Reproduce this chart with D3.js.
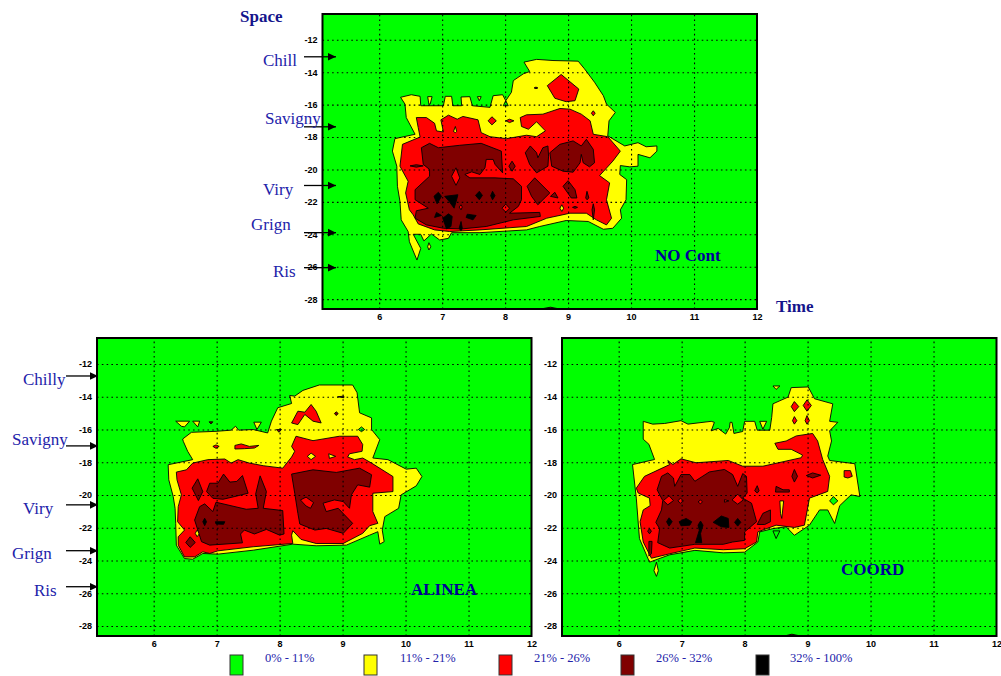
<!DOCTYPE html>
<html>
<head>
<meta charset="utf-8">
<script src="https://cdn.jsdelivr.net/npm/d3@7"></script>
<style>
body { margin: 0; background: #fff; }
svg { display: block; }
.tick text { font-family: "Liberation Sans", Arial, sans-serif; font-size: 9px; font-weight: bold; fill: #000; }
.label { font-family: "Liberation Serif", serif; fill: #2222aa; }
</style>
</head>
<body>
<div id="chart"></div>
<script>
// contour outlines are [time (h), space (km)]
var timeTicks = [6, 7, 8, 9, 10, 11, 12]
var spaceTicks = [-12, -14, -16, -18, -20, -22, -24, -26, -28]
var legendLabels = ["0% - 11%", "11% - 21%", "21% - 26%", "26% - 32%", "32% - 100%"]
var levelColors = ["#00ff00", "#ffff00", "#ff0000", "#800000", "#000000"]

var topSites = ["Chill", "Savigny", "Viry", "Grign", "Ris"]
var topSiteSpace = [-13.05, -17.37, -20.99, -23.9, -26.06]
var bottomSites = ["Chilly", "Savigny", "Viry", "Grign", "Ris"]
var bottomSiteSpace = [-12.73, -17.0, -20.6, -23.4, -25.6]

// NO Cont
var noContYellow = [
  [[6.34,-15.55],[6.51,-15.39],[6.65,-15.49],[6.66,-16.07],[7.02,-16.07],[7.05,-15.49],[7.15,-15.49],[7.17,-16.07],[7.31,-16.07],[7.30,-15.53],[7.44,-15.51],[7.48,-16.07],[7.76,-16.17],[7.81,-15.45],[7.96,-15.39],[8.01,-15.76],[8.10,-15.24],[8.13,-14.52],[8.29,-14.10],[8.39,-13.96],[8.30,-13.38],[8.50,-13.21],[8.76,-13.28],[9.16,-13.32],[9.26,-13.79],[9.42,-14.62],[9.56,-15.45],[9.61,-15.97],[9.75,-16.48],[9.65,-17.00],[9.63,-17.93],[9.90,-18.55],[10.11,-18.35],[10.24,-18.60],[10.41,-18.55],[10.41,-18.87],[10.30,-19.28],[10.11,-19.07],[10.11,-19.80],[9.98,-19.84],[9.83,-19.76],[9.82,-20.31],[9.93,-20.63],[9.92,-21.87],[9.83,-22.49],[9.85,-23.01],[9.71,-23.63],[9.56,-23.69],[9.32,-23.21],[8.97,-23.15],[8.55,-23.52],[8.34,-23.73],[7.60,-23.90],[7.15,-23.90],[7.10,-24.25],[6.96,-24.35],[6.83,-23.98],[6.71,-24.41],[6.66,-24.00],[6.54,-24.00],[6.66,-24.87],[6.60,-25.59],[6.48,-24.46],[6.46,-23.83],[6.35,-23.11],[6.33,-21.97],[6.29,-21.04],[6.28,-19.80],[6.21,-18.87],[6.25,-18.10],[6.57,-17.83],[6.43,-16.80],[6.41,-15.97]],
  [[6.77,-15.51],[6.84,-15.51],[6.81,-15.97],[6.79,-15.97]],
  [[7.56,-15.51],[7.62,-15.51],[7.59,-15.76]],
  [[6.79,-24.52],[6.82,-24.77],[6.79,-24.97],[6.77,-24.77]]
]
var noContGreenSpots = [
  [[8.01,-15.76],[8.05,-16.07],[7.97,-16.07]]
]
var noContRed = [
  [[6.59,-16.80],[6.75,-16.80],[6.88,-17.15],[6.91,-17.62],[7.02,-17.69],[6.98,-16.94],[7.10,-16.65],[7.24,-16.90],[7.33,-16.73],[7.57,-16.94],[7.62,-17.73],[7.76,-17.98],[8.02,-18.10],[8.34,-17.89],[8.50,-17.98],[8.64,-17.62],[8.50,-17.06],[8.37,-17.52],[8.26,-17.35],[8.24,-16.80],[8.34,-16.63],[8.60,-16.59],[8.87,-16.24],[9.03,-16.28],[9.21,-16.59],[9.35,-17.00],[9.40,-17.83],[9.63,-17.98],[9.83,-18.87],[9.71,-19.49],[9.50,-20.38],[9.66,-20.83],[9.61,-21.87],[9.69,-23.01],[9.61,-23.42],[9.45,-23.11],[9.29,-22.70],[9.03,-22.70],[8.66,-23.01],[8.34,-23.52],[7.60,-23.73],[7.12,-23.83],[6.88,-23.73],[6.62,-23.36],[6.54,-22.80],[6.48,-22.49],[6.42,-21.45],[6.46,-20.73],[6.33,-19.80],[6.37,-18.45],[6.65,-18.00],[6.62,-17.42]],
  [[8.67,-14.83],[8.89,-14.14],[9.17,-15.04],[9.11,-15.76],[8.97,-15.82],[8.79,-15.61]],
  [[9.40,-16.38],[9.43,-16.53],[9.40,-16.69],[9.37,-16.53]],
  [[7.79,-16.75],[7.86,-17.00],[7.79,-17.25],[7.73,-17.00]],
  [[8.01,-17.00],[8.07,-16.90],[8.14,-17.00],[8.07,-17.11]]
]
var noContYellowSpots = [
  [[7.21,-17.35],[7.23,-17.66],[7.21,-17.73],[7.18,-17.66]],
  [[8.90,-22.18],[8.93,-22.39],[8.90,-22.59],[8.87,-22.39]]
]
var noContDark = [
  [[6.67,-18.66],[6.80,-18.39],[6.94,-18.66],[7.28,-18.51],[7.62,-18.39],[7.94,-18.87],[7.96,-20.21],[7.84,-19.69],[7.81,-19.38],[7.70,-19.38],[7.68,-19.90],[7.60,-20.31],[7.47,-20.15],[7.36,-20.31],[7.44,-20.52],[7.84,-20.52],[8.13,-20.58],[8.26,-21.04],[8.26,-21.87],[8.21,-22.28],[8.07,-22.70],[8.55,-22.65],[8.56,-22.90],[8.13,-23.11],[7.70,-23.52],[7.31,-23.67],[7.02,-23.63],[6.75,-23.42],[6.57,-23.01],[6.59,-22.55],[6.78,-22.39],[6.57,-21.87],[6.57,-21.25],[6.80,-20.42],[6.80,-20.00],[6.70,-19.69]],
  [[6.49,-19.78],[6.59,-19.71],[6.70,-19.78],[6.59,-19.86]],
  [[8.11,-19.49],[8.16,-19.80],[8.11,-20.11],[8.06,-19.80]],
  [[8.32,-18.97],[8.40,-18.55],[8.50,-18.97],[8.52,-19.28],[8.60,-18.66],[8.68,-18.55],[8.69,-19.18],[8.68,-19.80],[8.50,-20.21],[8.39,-19.69]],
  [[8.71,-18.97],[8.87,-18.45],[9.08,-18.24],[9.21,-18.55],[9.29,-18.14],[9.40,-18.76],[9.42,-19.59],[9.34,-19.84],[9.24,-19.59],[9.21,-19.07],[9.19,-19.59],[9.08,-20.17],[8.92,-20.11],[8.74,-19.80]],
  [[8.35,-21.04],[8.47,-20.52],[8.71,-21.45],[8.52,-22.18],[8.42,-21.66]],
  [[8.92,-21.04],[9.00,-20.69],[9.11,-21.25],[9.14,-21.76],[9.05,-21.76]],
  [[8.72,-21.66],[8.79,-21.41],[8.84,-21.76]],
  [[9.30,-21.35],[9.33,-21.76],[9.30,-21.87],[9.28,-21.76]],
  [[9.40,-22.12],[9.42,-22.49],[9.40,-23.11],[9.38,-22.49]],
  [[8.46,-14.97],[8.49,-14.92],[8.52,-14.97],[8.49,-15.02]],
  [[9.07,-22.34],[9.11,-22.28],[9.15,-22.34],[9.11,-22.40]],
  [[8.55,-28.62],[8.72,-28.5],[8.88,-28.62]]
]
var noContRedSpots = [
  [[7.22,-19.90],[7.28,-20.52],[7.22,-20.98],[7.15,-20.42]],
  [[8.01,-22.14],[8.07,-22.39],[8.01,-22.63],[7.95,-22.39]],
  [[7.30,-22.18],[7.32,-22.32],[7.30,-22.49],[7.27,-22.32]]
]
var noContBlack = [
  [[6.94,-21.41],[6.99,-21.66],[6.92,-22.12],[6.87,-21.66]],
  [[7.04,-21.66],[7.25,-21.56],[7.23,-21.87],[7.19,-22.39],[7.11,-21.97]],
  [[7.59,-21.35],[7.64,-21.60],[7.59,-21.87],[7.53,-21.60]],
  [[7.80,-21.35],[7.84,-21.62],[7.80,-21.87],[7.77,-21.62]],
  [[6.91,-22.65],[6.99,-22.84],[6.88,-22.96]],
  [[7.10,-22.74],[7.16,-22.90],[7.14,-23.52],[7.07,-23.67],[7.01,-23.01]],
  [[7.40,-22.76],[7.54,-22.84],[7.49,-23.11],[7.38,-22.96]],
  [[7.30,-23.21],[7.32,-23.63],[7.30,-23.79],[7.27,-23.63]]
]

// ALINEA
var alineaYellow = [
  [[6.46,-16.58],[6.60,-16.17],[6.99,-16.11],[7.23,-16.04],[7.30,-15.80],[7.35,-16.04],[7.58,-16.00],[7.81,-16.21],[7.87,-15.49],[7.97,-14.67],[8.19,-14.41],[8.16,-13.92],[8.24,-13.96],[8.37,-13.61],[8.63,-13.28],[9.16,-13.28],[9.23,-13.75],[9.27,-14.98],[9.46,-15.29],[9.46,-16.00],[9.59,-16.62],[9.48,-17.74],[9.72,-17.84],[10.01,-18.42],[10.17,-18.36],[10.26,-18.87],[10.17,-19.44],[9.93,-19.99],[9.89,-20.81],[9.67,-21.32],[9.63,-22.14],[9.66,-22.85],[9.59,-23.00],[9.56,-22.24],[9.43,-22.45],[9.06,-23.06],[8.58,-23.10],[8.21,-23.00],[7.58,-23.37],[7.02,-23.61],[6.78,-23.57],[6.62,-23.92],[6.49,-23.88],[6.36,-23.06],[6.35,-21.73],[6.34,-20.81],[6.31,-20.09],[6.24,-19.07],[6.23,-18.15],[6.62,-17.84],[6.54,-17.33],[6.47,-16.72]],
  [[6.35,-15.49],[6.57,-15.49],[6.49,-15.84],[6.44,-15.80]],
  [[6.62,-15.49],[6.73,-15.49],[6.70,-15.84]],
  [[7.59,-15.55],[7.71,-15.55],[7.64,-16.00]]
]
var alineaGreenSpots = [
  [[9.30,-15.84],[9.35,-16.00],[9.30,-16.13],[9.25,-16.00]]
]
var alineaRed = [
  [[6.36,-18.60],[6.52,-18.46],[6.62,-18.05],[6.86,-17.84],[7.13,-17.80],[7.23,-18.05],[7.34,-17.84],[7.52,-18.05],[7.74,-18.21],[8.05,-18.36],[8.19,-17.68],[8.24,-17.33],[8.19,-17.03],[8.26,-16.41],[8.53,-16.68],[8.95,-16.41],[9.24,-16.41],[9.32,-16.92],[9.31,-17.33],[9.11,-17.48],[9.08,-17.68],[9.19,-17.84],[9.32,-17.74],[9.46,-18.05],[9.80,-18.87],[9.80,-19.79],[9.48,-19.89],[9.48,-21.01],[9.56,-21.73],[9.43,-21.87],[9.32,-22.34],[9.01,-22.96],[8.58,-22.96],[8.34,-22.71],[8.21,-22.18],[8.19,-22.45],[8.21,-22.96],[7.58,-23.16],[7.02,-23.41],[6.89,-23.57],[6.78,-23.47],[6.65,-23.78],[6.49,-23.78],[6.39,-23.06],[6.39,-22.55],[6.49,-22.14],[6.38,-21.63],[6.39,-20.71],[6.44,-19.99],[6.37,-19.07]],
  [[8.19,-15.60],[8.29,-14.88],[8.40,-14.94],[8.50,-14.47],[8.58,-14.88],[8.66,-15.60],[8.53,-15.49],[8.40,-15.08],[8.29,-15.70]],
  [[7.29,-16.97],[7.39,-16.88],[7.52,-17.03],[7.67,-16.97],[7.60,-17.13],[7.44,-17.17],[7.29,-17.19]],
  [[6.94,-17.03],[6.99,-16.94],[7.04,-17.03],[6.99,-17.15]]
]
var alineaYellowSpots = [
  [[8.50,-17.44],[8.57,-17.64],[8.50,-17.84],[8.44,-17.64]],
  [[8.78,-17.48],[8.89,-17.64],[8.79,-17.76]],
  [[6.69,-22.14],[6.73,-22.34],[6.69,-22.55],[6.66,-22.34]]
]
var alineaDark = [
  [[6.58,-22.55],[6.66,-22.90],[6.58,-23.20],[6.51,-22.90]],
  [[6.61,-19.58],[6.70,-19.01],[6.78,-19.79],[6.71,-20.34]],
  [[6.84,-19.79],[6.89,-19.28],[7.02,-19.28],[7.11,-18.72],[7.21,-19.21],[7.32,-19.17],[7.41,-18.81],[7.50,-19.89],[7.29,-20.09],[7.10,-20.26],[6.94,-20.20]],
  [[7.62,-19.93],[7.69,-18.83],[7.79,-19.79],[7.74,-20.81],[8.05,-20.95],[8.07,-22.38],[8.00,-22.45],[7.79,-22.10],[7.60,-22.38],[7.44,-22.14],[7.38,-22.38],[7.41,-22.92],[6.89,-23.06],[6.76,-22.85],[6.65,-21.53],[6.73,-20.71],[6.81,-20.54],[6.94,-21.01],[6.99,-20.44],[7.47,-20.87],[7.66,-20.81]],
  [[8.19,-18.72],[8.53,-18.46],[8.90,-18.62],[9.27,-18.36],[9.46,-18.76],[9.43,-19.52],[9.24,-19.38],[9.14,-19.99],[9.11,-20.81],[9.01,-20.40],[8.87,-20.30],[8.69,-20.50],[8.74,-21.01],[8.93,-20.81],[9.16,-21.73],[9.01,-22.34],[8.74,-22.04],[8.56,-22.14],[8.32,-21.77],[8.29,-21.12],[8.24,-19.89]],
  [[6.88,-15.53],[6.94,-15.53],[6.91,-15.66]],
  [[8.90,-14.92],[8.93,-15.02],[8.90,-15.15],[8.87,-15.02]],
  [[8.92,-14.00],[9.02,-13.96],[9.02,-14.06]],
  [[7.95,-16.00],[8.03,-16.00],[7.99,-16.17]]
]
var alineaRedSpots = [
  [[8.33,-20.30],[8.42,-20.13],[8.54,-20.46],[8.49,-20.81],[8.42,-20.67]]
]
var alineaBlack = [
  [[6.81,-21.42],[6.84,-21.63],[6.81,-21.87],[6.78,-21.63]],
  [[6.98,-21.63],[7.13,-21.63],[7.11,-21.79],[6.99,-21.77]]
]

// COORD
var coordYellow = [
  [[6.39,-15.50],[6.54,-15.67],[6.73,-15.63],[6.99,-15.46],[7.10,-15.67],[7.47,-15.50],[7.52,-15.56],[7.47,-16.08],[7.58,-15.93],[7.70,-16.28],[7.76,-15.87],[7.77,-15.56],[7.80,-15.56],[7.83,-16.24],[7.97,-16.12],[8.00,-15.50],[8.16,-15.50],[8.20,-16.04],[8.40,-16.04],[8.43,-15.26],[8.45,-14.43],[8.69,-14.02],[8.74,-13.44],[9.01,-13.40],[9.11,-14.12],[9.40,-14.43],[9.35,-15.50],[9.48,-15.56],[9.35,-16.08],[9.38,-16.70],[9.32,-17.62],[9.35,-17.89],[9.75,-18.09],[9.83,-20.09],[9.69,-19.99],[9.51,-20.65],[9.43,-21.74],[9.32,-20.91],[9.19,-20.91],[9.03,-21.84],[8.79,-22.46],[8.66,-21.94],[8.45,-22.05],[8.24,-22.25],[8.21,-22.87],[8.00,-23.49],[7.66,-23.53],[7.21,-23.38],[6.81,-23.65],[6.49,-24.10],[6.33,-22.66],[6.28,-20.19],[6.22,-18.14],[6.57,-17.83],[6.48,-16.90],[6.39,-16.59]],
  [[8.45,-13.34],[8.56,-13.34],[8.50,-13.55]],
  [[8.24,-15.50],[8.35,-15.50],[8.29,-15.98]],
  [[6.60,-24.10],[6.63,-24.62],[6.60,-24.97],[6.56,-24.62]]
]
var coordGreenSpots = [
  [[8.45,-22.19],[8.56,-22.19],[8.50,-22.66]],
  [[9.35,-20.36],[9.41,-20.09],[9.48,-20.36],[9.41,-20.60]]
]
var coordRed = [
  [[6.28,-19.58],[6.41,-18.86],[6.81,-18.14],[6.78,-17.89],[6.86,-18.14],[6.99,-17.79],[7.23,-18.03],[7.74,-17.89],[7.97,-18.24],[8.29,-18.24],[8.90,-17.72],[8.92,-17.56],[8.74,-17.21],[8.53,-17.21],[8.48,-16.84],[8.66,-16.70],[8.82,-16.39],[9.08,-16.24],[9.16,-16.70],[9.24,-17.83],[9.35,-18.86],[9.32,-19.78],[9.03,-20.19],[8.98,-21.22],[8.95,-21.84],[8.79,-21.98],[8.50,-21.84],[8.21,-22.25],[8.19,-22.87],[8.00,-23.28],[7.66,-23.34],[7.21,-23.24],[6.81,-23.59],[6.52,-23.86],[6.39,-22.87],[6.34,-21.63],[6.39,-20.91],[6.50,-20.65],[6.49,-20.19],[6.31,-19.88]],
  [[8.79,-14.29],[8.86,-14.60],[8.79,-14.91],[8.74,-14.60]],
  [[8.99,-14.19],[9.06,-14.53],[8.99,-14.88],[8.93,-14.53]],
  [[8.79,-15.21],[8.83,-15.46],[8.79,-15.67],[8.76,-15.46]],
  [[8.99,-15.15],[9.03,-15.46],[8.99,-15.67],[8.96,-15.46]],
  [[9.58,-18.51],[9.68,-18.51],[9.71,-18.86],[9.64,-18.96],[9.58,-18.90]]
]
var coordYellowSpots = [
  [[8.56,-20.36],[8.62,-20.36],[8.59,-21.43],[8.57,-21.12]]
]
var coordDark = [
  [[6.61,-19.68],[6.68,-18.86],[6.78,-18.65],[6.87,-18.96],[6.89,-19.47],[6.99,-18.75],[7.13,-18.75],[7.21,-19.16],[7.44,-18.59],[7.68,-18.44],[7.81,-18.75],[7.89,-19.47],[7.97,-18.69],[8.03,-18.86],[8.04,-19.88],[7.97,-20.19],[8.11,-20.50],[8.19,-21.63],[8.00,-22.25],[8.00,-22.77],[7.81,-22.87],[7.66,-23.01],[7.21,-23.01],[6.81,-23.24],[6.62,-22.91],[6.65,-22.05],[6.59,-21.67],[6.68,-20.91],[6.70,-20.34]],
  [[8.20,-19.43],[8.23,-19.74],[8.20,-19.88],[8.16,-19.74]],
  [[8.50,-19.47],[8.61,-19.68],[8.71,-19.68],[8.71,-19.82],[8.49,-19.82]],
  [[8.79,-18.44],[8.84,-18.86],[8.79,-19.21],[8.75,-18.86]],
  [[8.98,-18.81],[9.08,-18.65],[9.21,-18.79],[9.08,-18.96]],
  [[8.20,-21.80],[8.29,-21.12],[8.41,-20.91],[8.41,-21.63],[8.32,-21.80]],
  [[6.48,-22.83],[6.53,-22.83],[6.52,-23.59],[6.48,-23.73]],
  [[6.49,-22.05],[6.52,-22.21],[6.49,-22.37],[6.46,-22.21]],
  [[8.62,-28.62],[8.75,-28.5],[8.9,-28.62]]
]
var coordRedSpots = [
  [[6.71,-20.34],[6.80,-20.05],[6.87,-20.34],[6.78,-20.60]],
  [[7.80,-20.30],[7.89,-19.95],[7.98,-20.30],[7.89,-20.56]],
  [[6.98,-20.19],[7.03,-20.36],[6.98,-20.50],[6.94,-20.36]],
  [[7.30,-20.30],[7.33,-20.42],[7.30,-20.54],[7.26,-20.42]],
  [[7.68,-20.28],[7.75,-20.36],[7.68,-20.44]]
]
var coordBlack = [
  [[6.80,-21.39],[6.85,-21.63],[6.80,-21.90],[6.76,-21.63]],
  [[6.96,-21.63],[7.07,-21.43],[7.16,-21.63],[7.13,-21.84],[6.99,-21.88]],
  [[7.30,-21.59],[7.34,-21.84],[7.30,-22.35],[7.32,-22.91],[7.22,-22.91],[7.28,-22.15],[7.26,-21.84]],
  [[7.50,-21.67],[7.63,-21.28],[7.74,-21.43],[7.75,-21.98],[7.63,-21.94]],
  [[7.89,-21.43],[7.94,-21.67],[7.89,-21.90],[7.84,-21.67]]
]

var svg = d3.select("#chart").append("svg")
    .attr("width", 1001)
    .attr("height", 676)

svg.append("defs").append("marker")
    .attr("id", "arrow")
    .attr("markerUnits", "userSpaceOnUse")
    .attr("markerWidth", 10)
    .attr("markerHeight", 10)
    .attr("refX", 9)
    .attr("refY", 5)
    .attr("orient", "auto")
  .append("path")
    .attr("d", "M1,1.2 L9,5 L1,8.8 Z")
    .attr("fill", "#000")

// order matters, each layer paints over the one before
function make_layers(yellow, greenSpots, red, yellowSpots, dark, redSpots, black) {
    return [[1, yellow], [0, greenSpots], [2, red], [1, yellowSpots], [3, dark], [2, redSpots], [4, black]]
}

function draw_panel(id, left, top, layers) {
    var width = 434.5
    var height = top < 100 ? 295 : 298

    var x = d3.scaleLinear().domain([5.1, 12]).range([left, left + width])
    var y = d3.scaleLinear().domain([-10.41, -28.61]).range([top, top + height])

    var line = d3.line()
        .x(function(d) { return x(d[0]) })
        .y(function(d) { return y(d[1]) })
        .curve(d3.curveLinearClosed)

    svg.append("clipPath").attr("id", id)
      .append("rect")
        .attr("x", left).attr("y", top)
        .attr("width", width).attr("height", height)

    var plot = svg.append("g").attr("clip-path", "url(#" + id + ")")

    plot.append("rect")
        .attr("x", left).attr("y", top)
        .attr("width", width).attr("height", height)
        .attr("fill", levelColors[0])

    layers.forEach(function(layer) {
        plot.append("g").selectAll("path")
            .data(layer[1])
            .enter().append("path")
            .attr("d", line)
            .attr("fill", levelColors[layer[0]])
            .attr("stroke", "#000")
            .attr("stroke-width", 0.9)
            .attr("stroke-linejoin", "round")
    })

    // dotted grid goes over the contours
    var gridX = svg.append("g")
        .attr("transform", "translate(0," + (top + height) + ")")
        .call(d3.axisBottom(x).tickValues(timeTicks.slice(0, 6)).tickSize(-height).tickFormat(""))
    var gridY = svg.append("g")
        .attr("transform", "translate(" + left + ",0)")
        .call(d3.axisLeft(y).tickValues(spaceTicks).tickSize(-width).tickFormat(""))
    ;[gridX, gridY].forEach(function(g) {
        g.select(".domain").remove()
        g.selectAll("line")
            .attr("stroke", "#000")
            .attr("stroke-width", 1.1)
            .attr("stroke-dasharray", "1.6,3.2")
    })

    svg.append("g")
        .attr("transform", "translate(0," + (top + height) + ")")
        .call(d3.axisBottom(x).tickValues(timeTicks).tickSize(0).tickPadding(5).tickFormat(function(d) { return String(d) }))
        .select(".domain").remove()

    svg.append("g")
        .attr("transform", "translate(" + left + ",0)")
        .call(d3.axisLeft(y).tickValues(spaceTicks).tickSize(0).tickPadding(5).tickFormat(function(d) { return String(d) }))
        .select(".domain").remove()

    svg.append("rect")
        .attr("x", left).attr("y", top)
        .attr("width", width).attr("height", height)
        .attr("fill", "none")
        .attr("stroke", "#000")
        .attr("stroke-width", 2)

    return y
}

function draw_sites(y, names, spaces, labelPos, arrowFrom, arrowTo) {
    names.forEach(function(name, i) {
        svg.append("line")
            .attr("x1", arrowFrom).attr("x2", arrowTo)
            .attr("y1", y(spaces[i])).attr("y2", y(spaces[i]))
            .attr("stroke", "#000")
            .attr("stroke-width", 1.3)
            .attr("marker-end", "url(#arrow)")
        svg.append("text")
            .attr("class", "label")
            .attr("x", labelPos[i][0])
            .attr("y", labelPos[i][1])
            .attr("font-size", 17)
            .text(name)
    })
}

function add_title(text, px, py, color) {
    svg.append("text")
        .attr("class", "label")
        .attr("x", px).attr("y", py)
        .attr("font-size", 17)
        .attr("font-weight", "bold")
        .style("fill", color)
        .text(text)
}

var yTop = draw_panel("clip-nocont", 322.5, 14,
    make_layers(noContYellow, noContGreenSpots, noContRed, noContYellowSpots, noContDark, noContRedSpots, noContBlack))
var yLeft = draw_panel("clip-alinea", 97, 338,
    make_layers(alineaYellow, alineaGreenSpots, alineaRed, alineaYellowSpots, alineaDark, alineaRedSpots, alineaBlack))
draw_panel("clip-coord", 562, 338,
    make_layers(coordYellow, coordGreenSpots, coordRed, coordYellowSpots, coordDark, coordRedSpots, coordBlack))

draw_sites(yTop, topSites, topSiteSpace, [[263, 66], [265, 124], [263, 195], [251, 230], [273, 277]], 304, 336)
draw_sites(yLeft, bottomSites, bottomSiteSpace, [[23, 385], [12, 445], [23, 514], [12, 559], [34, 596]], 66, 98)

add_title("Space", 240, 22, "#14148c")
add_title("Time", 776, 312, "#14148c")
add_title("NO Cont", 655, 261, "#000099")
add_title("ALINEA", 411, 595, "#000099")
add_title("COORD", 841, 575, "#000099")

// legend
var legendBoxX = [230, 364, 499, 621, 756]
var legendTextX = [265, 400, 534, 656, 790]

svg.append("g").selectAll("rect")
    .data(legendLabels)
    .enter().append("rect")
    .attr("x", function(d, i) { return legendBoxX[i] })
    .attr("y", 655)
    .attr("width", 13)
    .attr("height", 20)
    .attr("fill", function(d, i) { return levelColors[i] })
    .attr("stroke", "#333")
    .attr("stroke-width", 1)

svg.append("g").selectAll("text")
    .data(legendLabels)
    .enter().append("text")
    .attr("class", "label")
    .attr("x", function(d, i) { return legendTextX[i] })
    .attr("y", 662)
    .attr("font-size", 12.5)
    .text(function(d) { return d })
</script>
</body>
</html>
